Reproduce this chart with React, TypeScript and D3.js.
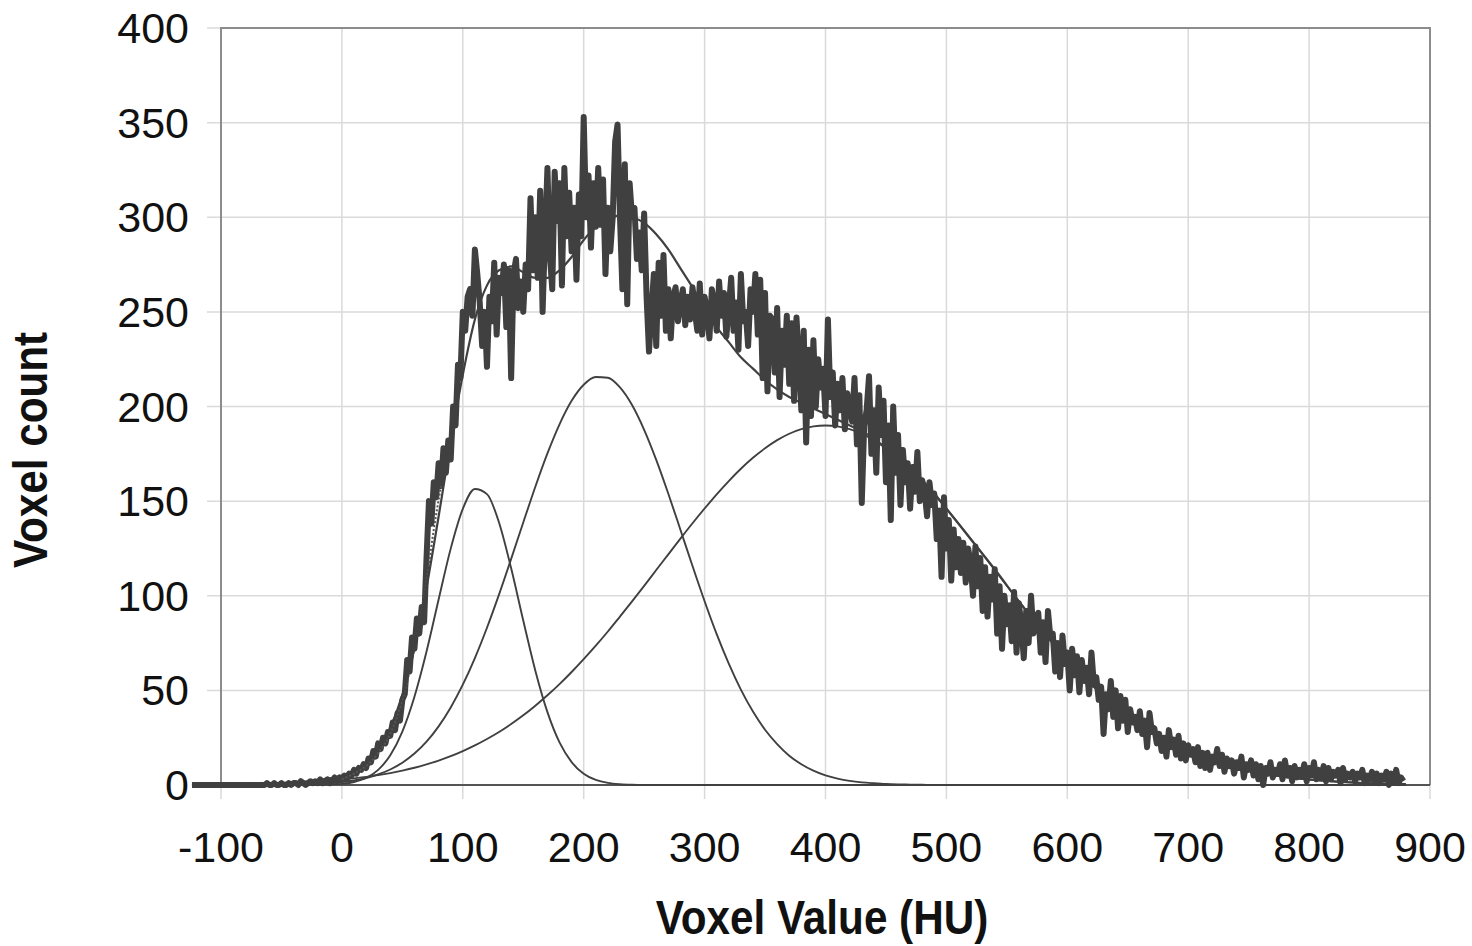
import * as d3 from 'd3';

// Voxel histogram with fitted gaussian components (HU)
const HIST_START = -124;
const HIST_STEP = 2;
const histCounts = [
  0, 0, 0, 0, 0, 0, 0, 0, 0, 0,
  0, 0, 0, 0, 0, 0, 0, 0, 0, 0,
  0, 0, 0, 0, 0, 0, 0, 0, 0, 0,
  0, 1, 0, 0, 1, 0, 0, 1, 0, 0,
  1, 0, 1, 1, 0, 2, 1, 0, 1, 2,
  1, 2, 1, 3, 1, 2, 3, 1, 2, 4,
  2, 4, 3, 5, 3, 6, 5, 8, 6, 9,
  8, 11, 9, 14, 12, 18, 15, 22, 19, 25,
  22, 28, 26, 33, 29, 38, 34, 45, 48, 66,
  60, 78, 72, 88, 80, 94, 86, 120, 150, 138,
  160, 152, 170, 158, 178, 165, 182, 172, 200, 190,
  222, 215, 250, 240, 258, 262, 248, 283, 270, 255,
  232, 250, 221, 258, 245, 276, 238, 268, 260, 275,
  242, 272, 215, 270, 278, 252, 266, 250, 275, 262,
  310, 272, 300, 268, 314, 250, 290, 326, 280, 262,
  324, 298, 318, 264, 326, 290, 313, 282, 305, 267,
  312, 290, 353, 300, 322, 284, 318, 295, 326, 296,
  320, 270, 305, 282, 300, 340, 349, 300, 262, 328,
  254, 318, 300, 305, 278, 292, 272, 302, 258, 229,
  250, 270, 232, 276, 248, 280, 240, 262, 236, 258,
  263, 245, 255, 262, 243, 258, 246, 263, 250, 240,
  265, 238, 258, 250, 236, 262, 254, 240, 266, 248,
  260, 237, 252, 268, 240, 255, 230, 270, 245, 250,
  232, 262, 250, 270, 238, 267, 215, 260, 208, 248,
  246, 218, 252, 205, 240, 222, 248, 212, 244, 203,
  247, 225, 198, 240, 181, 230, 195, 235, 200, 225,
  210, 220, 195, 246, 205, 218, 190, 212, 198, 215,
  188, 207, 200, 192, 215, 180, 206, 149, 190, 198,
  216, 175, 198, 165, 210, 185, 203, 160, 190, 140,
  200, 165, 185, 148, 177, 160, 170, 146, 168, 155,
  176, 150, 161, 155, 142, 160, 148, 154, 130, 145,
  110, 152, 125, 140, 108, 135, 115, 130, 112, 128,
  107, 125, 118, 100, 126, 105, 120, 92, 115, 89,
  110, 98, 114, 80, 105, 72, 100, 85, 95, 76,
  102, 70, 96, 84, 67, 92, 75, 100, 80, 88,
  91, 70, 86, 65, 92, 78, 80, 60, 75, 57,
  79, 64, 70, 50, 72, 58, 68, 49, 66, 55,
  62, 48, 70, 53, 57, 45, 52, 27, 48, 40,
  55, 36, 50, 30, 47, 34, 45, 28, 40, 33,
  36, 29, 39, 27, 34, 20, 38, 28, 30, 22,
  27, 18, 25, 15, 29, 20, 24, 16, 26, 14,
  22, 13, 21, 16, 19, 12, 20, 10, 17, 9,
  17, 8, 15, 12, 19, 10, 16, 7, 14, 10,
  13, 6, 12, 9, 15, 4, 11, 8, 13, 5,
  11, 3, 10, 0, 9, 6, 12, 4, 8, 6,
  11, 3, 13, 5, 9, 2, 10, 4, 8, 5,
  11, 2, 9, 5, 12, 3, 8, 4, 10, 2,
  9, 3, 7, 5, 8, 1, 9, 3, 6, 4,
  7, 2, 6, 4, 8, 1, 5, 3, 7, 2,
  6, 1, 5, 3, 7, 0, 6, 2, 8, 1,
  4, 2,
];

// fitted curves, sampled at these HU values
const fitHU = [
  -124, -80, -40, -20,
  0, 10, 20, 30, 40, 50, 60, 70, 80, 90, 100, 110, 120, 130, 140, 150, 160, 170, 180, 190,
  200, 210, 220, 230, 240, 250, 260, 270, 280, 290, 300, 310, 320, 330, 340, 350, 360, 370,
  380, 390, 400, 410, 420, 430, 440, 450, 460, 470, 480, 490, 500,
  520, 540, 560, 580, 600, 620, 640, 660, 680, 700, 720, 740, 760, 780, 800, 820, 840, 860, 880,
];
const fitNarrow = [
  0, 0, 0, 0.1,
  0.6, 1.6, 3.7, 8, 15.7, 28.2, 46.6, 70.5, 98, 124.9, 145.9, 156.4, 153.7, 138.6, 114.5, 86.9, 60.4, 38.5, 22.5, 12.1,
  5.9, 2.7, 1.1, 0.4, 0.1, 0, 0, 0, 0, 0, 0, 0, 0, 0, 0, 0, 0, 0,
  0, 0, 0, 0, 0, 0, 0, 0, 0, 0, 0, 0, 0,
  0, 0, 0, 0, 0, 0, 0, 0, 0, 0, 0, 0, 0, 0, 0, 0, 0, 0, 0,
];
const fitMiddle = [
  0, 0, 0.2, 0.6,
  1.5, 2.4, 3.7, 5.6, 8.2, 11.8, 16.6, 22.9, 31, 41, 53, 67.1, 83.1, 100.7, 119.5, 138.7, 157.6, 175.2, 190.6, 203,
  211.5, 215.6, 215.2, 210.1, 200.8, 187.7, 171.8, 153.9, 134.9, 115.7, 97.1, 79.7, 64.1, 50.4, 38.8, 29.2, 21.6, 15.5,
  11, 7.6, 5.1, 3.4, 2.2, 1.4, 0.9, 0.5, 0.3, 0.2, 0.1, 0, 0,
  0, 0, 0, 0, 0, 0, 0, 0, 0, 0, 0, 0, 0, 0, 0, 0, 0, 0, 0,
];
const fitWide = [
  0.1, 0.45, 1.2, 1.9,
  2.85, 3.5, 4.3, 5.2, 6.3, 7.6, 9.1, 10.9, 12.9, 15.2, 17.9, 20.9, 24.3, 28, 32.2, 36.8, 41.9, 47.4, 53.3, 59.7,
  66.5, 73.6, 81.1, 89, 97, 105.2, 113.6, 121.9, 130.2, 138.3, 146.1, 153.6, 160.6, 167.1, 172.9, 177.9, 182.2, 185.6,
  188, 189.5, 190, 189.5, 188, 185.6, 182.2, 177.9, 172.9, 167.1, 160.6, 153.6, 146.1,
  130.2, 113.6, 97, 81.1, 66.5, 53.3, 41.9, 32.2, 24.3, 17.9, 12.9, 9.1, 6.3, 4.3, 2.85, 1.9, 1.2, 0.75, 0.45,
];
const fitSum = [
  0.1, 0.5, 1.4, 2.5,
  5, 7.5, 11.7, 18.8, 30.2, 47.6, 72.3, 104.3, 141.9, 181.1, 216.8, 246, 264, 272, 274, 271, 268, 268, 272, 279,
  288, 295, 299, 301, 300, 297, 291, 283, 273, 263, 252, 242, 234, 226, 220, 214, 209, 205,
  202, 199, 196, 193, 190, 187, 183, 178, 173, 167, 161, 154, 146,
  130, 114, 97, 81, 66.5, 53, 42, 32, 24, 18, 13, 9, 6.3, 4.3, 2.9, 1.9, 1.2, 0.8, 0.5,
];

// short dotted trace on the rising edge
const dottedHU = [0, 10, 20, 30, 40, 50, 60, 70, 76, 82];
const dottedCounts = [3, 6, 10, 17, 27, 45, 72, 108, 135, 158];

const xTicks = [-100, 0, 100, 200, 300, 400, 500, 600, 700, 800, 900];
const yTicks = [0, 50, 100, 150, 200, 250, 300, 350, 400];

const FONT = "'Liberation Sans', Arial, sans-serif";
const INK = '#404040';

export default function App() {
  const x = d3.scaleLinear().domain([-100, 900]).range([221, 1430]);
  const y = d3.scaleLinear().domain([0, 400]).range([785, 28]);

  const raw = d3.line<[number, number]>()
    .x(d => x(d[0]))
    .y(d => y(d[1]));
  const smooth = d3.line<[number, number]>()
    .x(d => x(d[0]))
    .y(d => y(d[1]))
    .curve(d3.curveMonotoneX);

  const histPts = histCounts.map((c, i) => [HIST_START + i * HIST_STEP, c] as [number, number]);
  const fitPath = (vals: number[]) => smooth(fitHU.map((h, i) => [h, vals[i]] as [number, number])) || '';
  const dottedPath = smooth(dottedHU.map((h, i) => [h, dottedCounts[i]] as [number, number])) || '';

  const [x0, x1] = x.range();
  const [yb, yt] = y.range();

  return (
    <svg
      width={1472}
      height={946}
      style={{ position: 'absolute', left: 0, top: 0, background: '#fff' }}
    >
      {/* grid */}
      {yTicks.map(t => (
        <line key={'gy' + t} x1={207} x2={x1} y1={y(t)} y2={y(t)} stroke="#dadada" strokeWidth={1.5} />
      ))}
      {xTicks.map(t => (
        <line key={'gx' + t} x1={x(t)} x2={x(t)} y1={yt} y2={yb + 14} stroke="#dadada" strokeWidth={1.5} />
      ))}

      {/* frame */}
      <path
        d={`M${x0},${yb}V${yt}H${x1}V${yb}`}
        fill="none"
        stroke="#8c8c8c"
        strokeWidth={2}
      />
      <line x1={x0} x2={x1} y1={yb} y2={yb} stroke="#555" strokeWidth={2} />

      {/* fitted components */}
      <path d={fitPath(fitWide)} fill="none" stroke={INK} strokeWidth={1.9} />
      <path d={fitPath(fitMiddle)} fill="none" stroke={INK} strokeWidth={1.9} />
      <path d={fitPath(fitNarrow)} fill="none" stroke={INK} strokeWidth={1.9} />

      {/* histogram */}
      <path
        d={raw(histPts) || ''}
        fill="none"
        stroke={INK}
        strokeWidth={6}
        strokeLinejoin="round"
      />
      <path d={dottedPath} fill="none" stroke="#555" strokeWidth={2} strokeDasharray="2,2" />

      {/* sum of fit */}
      <path d={fitPath(fitSum)} fill="none" stroke={INK} strokeWidth={2.2} />

      {/* tick labels */}
      {yTicks.map(t => (
        <text
          key={'ly' + t}
          x={189}
          y={y(t) + 15}
          textAnchor="end"
          fontFamily={FONT}
          fontSize={43}
          fill="#111"
        >
          {t}
        </text>
      ))}
      {xTicks.map(t => (
        <text
          key={'lx' + t}
          x={x(t)}
          y={862}
          textAnchor="middle"
          fontFamily={FONT}
          fontSize={43}
          fill="#111"
        >
          {t}
        </text>
      ))}

      {/* axis titles */}
      <text
        transform="translate(822,934) scale(0.88,1)"
        textAnchor="middle"
        fontFamily={FONT}
        fontWeight="bold"
        fontSize={48}
        fill="#111"
      >
        Voxel Value (HU)
      </text>
      <text
        transform="translate(47,450) rotate(-90) scale(0.88,1)"
        textAnchor="middle"
        fontFamily={FONT}
        fontWeight="bold"
        fontSize={48}
        fill="#111"
      >
        Voxel count
      </text>
    </svg>
  );
}
